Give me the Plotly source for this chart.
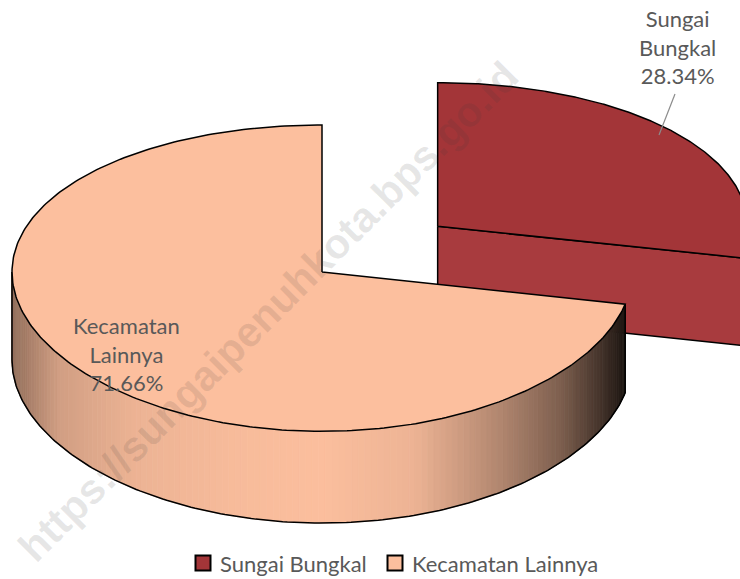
import numpy as np
import plotly.graph_objects as go

# ---------------- data ----------------
categories = ["Sungai Bungkal", "Kecamatan Lainnya"]
values = [28.34, 71.66]
label_texts = ["Sungai<br>Bungkal<br>28.34%", "Kecamatan<br>Lainnya<br>71.66%"]
colors = ["#A33538", "#FCBF9E"]
cut_colors = ["#A83B3E", "#F6B996"]
explode = [0.48, 0.0]
watermark = "https://sungaipenuhkota.bps.go.id"

# ---------------- geometry / style ----------------
W, H = 740, 579
CX, CY, RX, RY, DEPTH, PERSP = 322, 272, 310, 153, 88, 0.04
START = 90.0
TEXT_COLOR = "#595959"
FONT = "Lato"

# side shading factor as a function of cos(angle) (light from the front-left)
shade_c = [-1.0, -0.85, -0.6, -0.3, 0.0, 0.3, 0.57, 0.77, 0.9, 0.98, 1.0]
shade_f = [0.58, 0.83, 0.94, 0.98, 1.0, 0.94, 0.71, 0.50, 0.27, 0.11, 0.08]


def proj(u, v, z):
    s = 1.0 / (1.0 + PERSP * v)
    return CX + RX * u, CY - RY * v * s + DEPTH * z * s


def arc(a0, a1, ou, ov, z, n=120):
    t = np.radians(np.linspace(a0, a1, n))
    return proj(ou + np.cos(t), ov + np.sin(t), z)


def hex_rgb(h):
    h = h.lstrip("#")
    return tuple(int(h[i:i + 2], 16) for i in (0, 2, 4))


def shaded(base, c):
    f = float(np.interp(c, shade_c, shade_f))
    r, g, b = hex_rgb(base)
    return f"rgb({int(r * f)},{int(g * f)},{int(b * f)})"


def poly(fig, xs, ys, fill, line_color=None, lw=0.0):
    fig.add_trace(go.Scatter(
        x=list(xs) + [xs[0]], y=list(ys) + [ys[0]], mode="lines", fill="toself",
        fillcolor=fill, line=dict(color=line_color or fill, width=lw),
        hoverinfo="skip", showlegend=False))


def line(fig, xs, ys, lw=1.5, color="black"):
    fig.add_trace(go.Scatter(x=list(xs), y=list(ys), mode="lines",
                             line=dict(color=color, width=lw),
                             hoverinfo="skip", showlegend=False))


fig = go.Figure()

# slice angle ranges (clockwise from 12 o'clock)
total = float(sum(values))
slices = []
a = START
for i, v in enumerate(values):
    span = 360.0 * v / total
    lo, hi = a - span, a
    mid = np.radians((lo + hi) / 2)
    ou, ov = explode[i] * np.cos(mid), explode[i] * np.sin(mid)
    slices.append(dict(i=i, lo=lo, hi=hi, ou=ou, ov=ov))
    a -= span

# paint from back to front
for sl in sorted(slices, key=lambda d: -d["ov"]):
    i, lo, hi, ou, ov = sl["i"], sl["lo"], sl["hi"], sl["ou"], sl["ov"]
    base = colors[i]

    # visible cut faces
    for b, sign in ((lo, -1), (hi, 1)):
        nv = sign * np.cos(np.radians(b))
        if nv < -1e-6:
            rb = np.radians(b)
            p0 = proj(ou, ov, 0)
            p1 = proj(ou + np.cos(rb), ov + np.sin(rb), 0)
            p2 = proj(ou + np.cos(rb), ov + np.sin(rb), 1)
            p3 = proj(ou, ov, 1)
            poly(fig, [p0[0], p1[0], p2[0], p3[0]], [p0[1], p1[1], p2[1], p3[1]],
                 cut_colors[i], "black", 1.5)

    # visible outer side (front half of the rim)
    for k in range(-2, 3):
        a0, a1 = max(lo, -180 + 360 * k), min(hi, 360 * k)
        if a1 <= a0:
            continue
        n = max(2, int((a1 - a0) / 1.2))
        edges = np.linspace(a0, a1, n + 1)
        for j in range(n):
            e0, e1 = edges[j], edges[j + 1]
            tx, ty = arc(e0, e1, ou, ov, 0, 4)
            bx, by = arc(e1, e0, ou, ov, 1, 4)
            c = np.cos(np.radians((e0 + e1) / 2))
            col = shaded(base, c)
            poly(fig, np.concatenate([tx, bx]), np.concatenate([ty, by]), col, col, 0.8)
        bx, by = arc(a0, a1, ou, ov, 1, 200)
        line(fig, bx, by)
        for e in (a0, a1):
            re_ = np.radians(e)
            q0 = proj(ou + np.cos(re_), ov + np.sin(re_), 0)
            q1 = proj(ou + np.cos(re_), ov + np.sin(re_), 1)
            line(fig, [q0[0], q1[0]], [q0[1], q1[1]])

    # top face
    ax, ay = arc(lo, hi, ou, ov, 0, 300)
    c0 = proj(ou, ov, 0)
    poly(fig, [c0[0]] + list(ax), [c0[1]] + list(ay), base, "black", 1.5)

# ---------------- labels ----------------
annotations = [
    dict(x=677, y=47, text=label_texts[0]),
    dict(x=126, y=354, text=label_texts[1]),
]
for an in annotations:
    an.update(xref="x", yref="y", showarrow=False, xanchor="center", yanchor="middle",
              font=dict(family=FONT, size=22, color=TEXT_COLOR))

# legend (manual, horizontal at bottom)
leg_x = [203, 395]
leg_y = 563
fig.add_trace(go.Scatter(
    x=leg_x, y=[leg_y, leg_y], mode="markers",
    marker=dict(symbol="square", size=15, color=colors, line=dict(color="black", width=2)),
    hoverinfo="skip", showlegend=False))
for xx, name in zip(leg_x, categories):
    annotations.append(dict(x=xx + 15, y=leg_y, xref="x", yref="y", text=name, showarrow=False,
                            xanchor="left", yanchor="middle",
                            font=dict(family=FONT, size=22, color=TEXT_COLOR)))

# watermark
annotations.append(dict(x=268, y=311, xref="x", yref="y", text=watermark, showarrow=False,
                        textangle=-45, xanchor="center", yanchor="middle",
                        font=dict(family="Liberation Sans", size=42, weight="bold",
                                  color="rgba(60,60,60,0.12)")))

fig.update_layout(
    width=W, height=H, margin=dict(l=0, r=0, t=0, b=0),
    paper_bgcolor="white", plot_bgcolor="white", showlegend=False,
    xaxis=dict(range=[0, W], visible=False, fixedrange=True),
    yaxis=dict(range=[H, 0], visible=False, fixedrange=True),
    annotations=annotations,
    shapes=[dict(type="line", xref="x", yref="y", x0=675, y0=94, x1=659, y1=135,
                 line=dict(color="#8c8c8c", width=1.2))],
)

fig.write_html("out.html", config={"displayModeBar": False},
               post_script="document.body.style.margin='0';")
